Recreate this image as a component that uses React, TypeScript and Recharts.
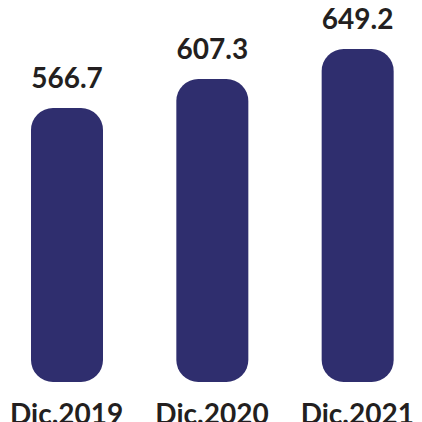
import React from 'react';
import { BarChart, Bar, XAxis, YAxis, LabelList } from 'recharts';

const categories = ['Dic.2019', 'Dic.2020', 'Dic.2021'];
const values = [566.7, 607.3, 649.2];

const data = categories.map((c, i) => ({ name: c, value: values[i] }));

export default function App() {
  return (
    <div style={{ position: 'absolute', left: 0, top: 0, width: 422, height: 422, background: '#ffffff', overflow: 'hidden' }}>
      <BarChart width={422} height={422} data={data} margin={{ top: 41, right: -8, bottom: 0, left: -6 }} style={{ overflow: 'hidden' }}>
        <XAxis
          dataKey="name"
          axisLine={false}
          tickLine={false}
          height={40}
          tickMargin={16}
          interval={0}
          tick={{ fontFamily: 'Lato', fontWeight: 700, fontSize: 28, fill: '#231f20' }}
        />
        <YAxis hide type="number" domain={[183.6, 660.4]} allowDataOverflow />
        <Bar dataKey="value" fill="#2f2e6e" barSize={72} radius={[22, 22, 22, 22]} isAnimationActive={false}>
          <LabelList
            dataKey="value"
            position="top"
            offset={20}
            style={{ fontFamily: 'Lato', fontWeight: 700, fontSize: 28, fill: '#231f20' }}
          />
        </Bar>
      </BarChart>
    </div>
  );
}
